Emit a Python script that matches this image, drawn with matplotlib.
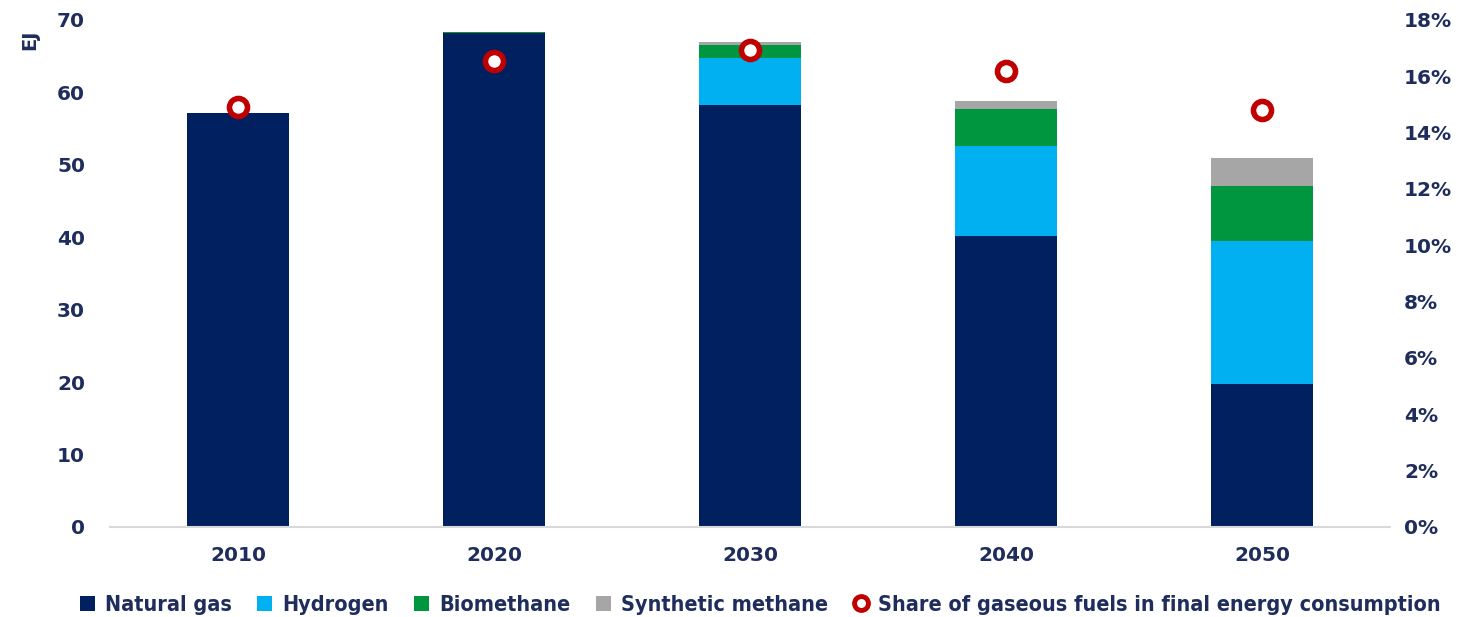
import matplotlib.pyplot as plt
from matplotlib.patches import Patch
from matplotlib.lines import Line2D
from matplotlib.ticker import FuncFormatter

years = ['2010', '2020', '2030', '2040', '2050']
natural_gas = [57.2, 68.2, 58.3, 40.2, 19.7]
hydrogen = [0.0, 0.0, 6.4, 12.4, 19.8]
biomethane = [0.0, 0.2, 1.9, 5.1, 7.6]
synthetic_methane = [0.0, 0.0, 0.4, 1.1, 3.9]
share_gaseous = [14.9, 16.55, 16.95, 16.2, 14.8]

TXT = '#1F2D5C'
COLORS = ['#002060', '#00B0F0', '#00963F', '#A6A6A6']

fig = plt.figure(figsize=(14.68, 6.17), dpi=100)
ax = fig.add_axes([0.0749, 0.1459, 0.872, 0.8217])
ax2 = ax.twinx()

x = list(range(len(years)))
bottom = [0.0] * len(years)
series = [natural_gas, hydrogen, biomethane, synthetic_methane]
names = ['Natural gas', 'Hydrogen', 'Biomethane', 'Synthetic methane']
for vals, col in zip(series, COLORS):
    ax.bar(x, vals, width=0.4, bottom=bottom, color=col, linewidth=0, zorder=2)
    bottom = [b + v for b, v in zip(bottom, vals)]

ax2.plot(x, share_gaseous, linestyle='none', marker='o', markersize=13,
         markerfacecolor='white', markeredgecolor='#C00000', markeredgewidth=4, zorder=5)

ax.set_xlim(-0.5, 4.5)
ax.set_ylim(0, 70)
ax2.set_ylim(0, 18)
ax.set_yticks(range(0, 71, 10))
ax2.set_yticks(range(0, 19, 2))
ax2.yaxis.set_major_formatter(FuncFormatter(lambda v, p: f'{v:.0f}%'))
ax.set_xticks(x)
ax.set_xticklabels(years)

for a in (ax, ax2):
    for s in a.spines.values():
        s.set_visible(False)
    a.tick_params(length=0, colors=TXT, labelsize=14.5)
    for lab in a.get_xticklabels() + a.get_yticklabels():
        lab.set_fontweight('bold')
ax.spines['bottom'].set_visible(True)
ax.spines['bottom'].set_color('#D9D9D9')
ax.spines['bottom'].set_linewidth(1.5)
ax.tick_params(axis='y', pad=18)
ax.tick_params(axis='x', pad=14)
ax2.tick_params(axis='y', pad=10)

fig.text(0.02, 0.935, 'EJ', rotation=90, color=TXT, fontsize=14,
         fontweight='bold', ha='center', va='center')

handles = [Patch(facecolor=c, edgecolor='none') for c in COLORS]
handles.append(Line2D([], [], linestyle='none', marker='o', markersize=10,
                      markerfacecolor='white', markeredgecolor='#C00000', markeredgewidth=3.5))
labels = names + ['Share of gaseous fuels in final energy consumption']
leg = fig.legend(handles, labels, loc='lower center', bbox_to_anchor=(0.518, -0.028),
                 ncol=5, frameon=False, handlelength=0.7, handleheight=0.7,
                 handletextpad=0.45, columnspacing=1.2,
                 prop={'family': 'DejaVu Sans', 'stretch': 'condensed',
                       'weight': 'bold', 'size': 15.5})
for t in leg.get_texts():
    t.set_color(TXT)

fig.savefig('out.png', dpi=100, facecolor='white')
